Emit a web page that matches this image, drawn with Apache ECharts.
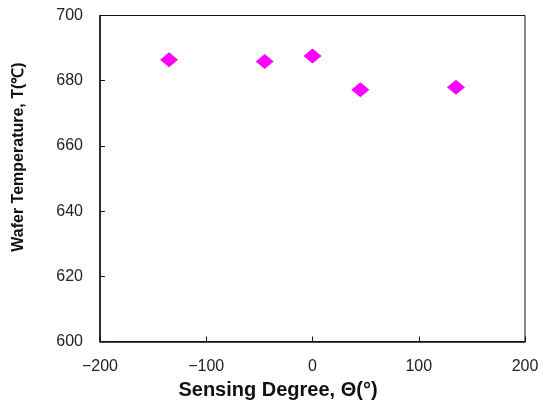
<!DOCTYPE html>
<html><head><meta charset="utf-8">
<script src="https://cdn.jsdelivr.net/npm/echarts@6/dist/echarts.min.js"></script>
<style>html,body{margin:0;padding:0;background:#fff}#c{width:540px;height:401px}</style>
</head><body><div id="c"></div>
<script>
const sensingDegree = [-135, -45, 0, 45, 135];
const waferTemp = [686.4, 685.9, 687.6, 677.2, 678.0];
const xTitle = 'Sensing Degree, Θ(°)';
const yTitle = 'Wafer Temperature, T(℃)';

const chart = echarts.init(document.getElementById('c'));
const fmt = v => String(v).replace('-', '\u2212');
chart.setOption({
  backgroundColor: '#fff',
  animation: false,
  grid: { left: 100, right: 15, top: 15.5, bottom: 59.5, outerBoundsMode: 'none', containLabel: false, show: true, borderColor: '#111', borderWidth: 1, backgroundColor: 'transparent' },
  xAxis: {
    type: 'value', min: -200, max: 200, interval: 100,
    name: xTitle, nameLocation: 'middle', nameGap: 39,
    nameTextStyle: { fontFamily: 'Liberation Sans', fontWeight: 'bold', fontSize: 20, color: '#111', padding: [0, 69, 0, 0] },
    axisLine: { onZero: false, lineStyle: { color: '#111', width: 1.5 } },
    axisTick: { inside: true, length: 5, lineStyle: { color: '#111' } },
    axisLabel: { margin: 17, fontFamily: 'Liberation Sans', fontSize: 16, color: '#222', formatter: fmt },
    splitLine: { show: false }
  },
  yAxis: {
    type: 'value', min: 600, max: 700, interval: 20,
    name: yTitle, nameLocation: 'middle', nameGap: 73,
    nameTextStyle: { fontFamily: 'Liberation Sans', fontWeight: 'bold', fontSize: 16, color: '#111', padding: [0, 0, 0, 43] },
    axisLine: { onZero: false, lineStyle: { color: '#111', width: 1.5 } },
    axisTick: { inside: true, length: 5, lineStyle: { color: '#111' } },
    axisLabel: { margin: 17, fontFamily: 'Liberation Sans', fontSize: 16, color: '#222' },
    splitLine: { show: false }
  },
  series: [{
    type: 'scatter',
    data: sensingDegree.map((x, i) => [x, waferTemp[i]]),
    symbol: 'diamond', symbolSize: [18, 15],
    itemStyle: { color: '#ff00ff', opacity: 1 }
  }]
});
</script></body></html>
